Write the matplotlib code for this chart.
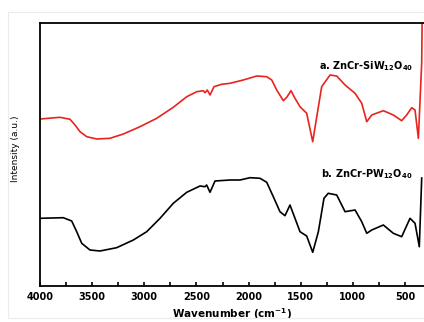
import matplotlib
matplotlib.use("Agg")
import matplotlib.pyplot as plt
import matplotlib.patches as patches
from matplotlib.ticker import MultipleLocator

# === Dati (numero d'onda in cm^-1, intensita' arbitraria) ===
wn_a = [4000, 3808, 3712, 3664, 3616, 3552, 3456, 3329, 3201, 3041, 2881, 2722,
        2593, 2497, 2434, 2418, 2396, 2370, 2332, 2258, 2178, 2051, 1922, 1826,
        1778, 1730, 1667, 1634, 1593, 1555, 1507, 1443, 1385, 1341, 1299, 1219,
        1155, 1075, 979, 915, 867, 819, 708, 612, 532, 484, 436, 404, 372, 340, 336]
int_a = [203, 204.7, 202.7, 197, 190.3, 185.3, 183, 183.7, 188, 195.3, 203.7, 214.7,
         225.3, 230.3, 231.3, 229.3, 232, 227, 235.3, 237.7, 238.7, 242, 246, 245.3,
         242, 232, 221.3, 224.7, 231.3, 223.7, 215.3, 208.7, 180.3, 208.7, 235.3, 247,
         246, 237, 228.7, 218.7, 200.3, 207, 211.3, 207, 201.3, 207, 214.3, 212, 183.7, 259, 300]

wn_b = [4000, 3777, 3696, 3648, 3600, 3521, 3425, 3265, 3105, 2977, 2849, 2722,
        2593, 2466, 2418, 2402, 2370, 2322, 2178, 2082, 1986, 1890, 1826, 1763,
        1699, 1651, 1603, 1555, 1507, 1443, 1385, 1331, 1277, 1236, 1155, 1107,
        1075, 979, 915, 867, 819, 708, 612, 532, 452, 404, 363, 340]
int_b = [103.7, 104.3, 101, 90.3, 78.7, 72, 71, 74.3, 82, 90.3, 103.7, 118.7,
         129.7, 136, 135.3, 137, 129.7, 141, 142, 142, 144.3, 143.7, 139.7, 125.3,
         110.3, 106.3, 117, 103.7, 90.3, 86, 69.7, 90.3, 123.7, 128.7, 127, 117,
         110.3, 112, 100.3, 88.7, 92, 97, 88.7, 85.3, 103.7, 98.7, 75.3, 144]

label_a = r"a. ZnCr-SiW$_{\mathbf{12}}$O$_{\mathbf{40}}$"
label_b = r"b. ZnCr-PW$_{\mathbf{12}}$O$_{\mathbf{40}}$"

# === Figura ===
fig = plt.figure(figsize=(4.24, 3.22), dpi=100)
fig.patches.append(patches.Rectangle((8 / 424, 4 / 322), 1.2, 0.95,
                                     transform=fig.transFigure, fill=False,
                                     edgecolor="#ececec", linewidth=0.8))

ax = fig.add_axes([40 / 424, 36 / 322, 1 - 40 / 424, 263 / 322])

ax.plot(wn_a, int_a, color="#e8241f", linewidth=1.2, solid_joinstyle="round")
ax.plot(wn_b, int_b, color="black", linewidth=1.2, solid_joinstyle="round")

ax.set_xlim(4000, 318)
ax.set_ylim(36, 299)

ax.xaxis.set_major_locator(MultipleLocator(500))
ax.xaxis.set_minor_locator(MultipleLocator(250))
ax.tick_params(axis="x", which="both", direction="in", length=3, width=1.2, pad=4)
ax.set_yticks([])

for lab in ax.get_xticklabels():
    lab.set_fontweight("bold")
    lab.set_fontsize(7)

for side in ["left", "top", "bottom"]:
    ax.spines[side].set_linewidth(1.3)
ax.spines["right"].set_visible(False)

ax.text(425, 256, label_a, ha="right", va="center", fontsize=7, fontweight="bold")
ax.text(425, 148, label_b, ha="right", va="center", fontsize=7, fontweight="bold")

ax.set_xlabel(r"Wavenumber (cm$^{\mathbf{-1}}$)", fontsize=7.5, fontweight="bold", labelpad=3)
fig.text(15 / 424, 1 - 149 / 322, "Intensity (a.u.)", rotation=90, ha="center", va="center",
         fontsize=6.5, family=["Liberation Sans Narrow", "DejaVu Sans"])

fig.savefig("out.png", dpi=100)
